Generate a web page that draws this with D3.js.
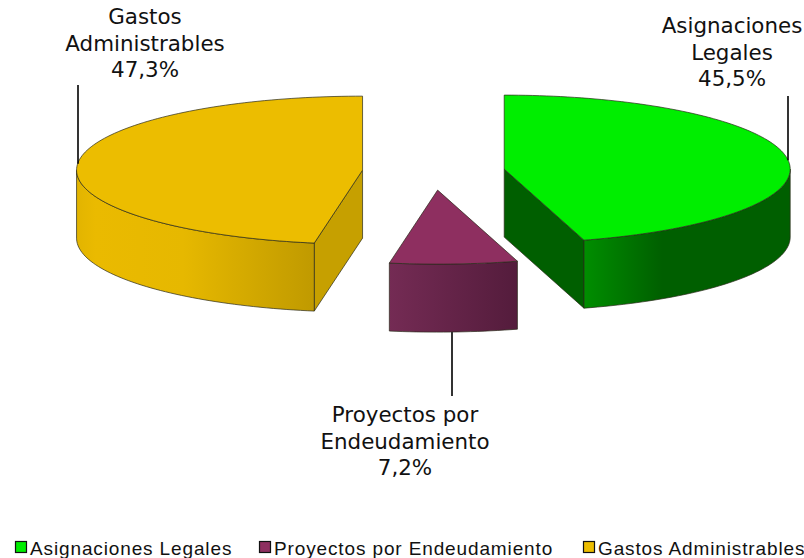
<!DOCTYPE html>
<html>
<head>
<meta charset="utf-8">
<script src="https://cdn.jsdelivr.net/npm/d3@7"></script>
<style>
html,body{margin:0;padding:0;background:#fff}
svg{display:block}
</style>
</head>
<body>
<svg id="chart" width="804" height="558"></svg>
<script>
const categories = ["Asignaciones Legales", "Proyectos por Endeudamiento", "Gastos Administrables"];
const values = [45.5, 7.2, 47.3];
const labelLines = [["Asignaciones", "Legales", "45,5%"], ["Proyectos por", "Endeudamiento", "7,2%"], ["Gastos", "Administrables", "47,3%"]];
const topColors = ["#00ee00", "#8e2f60", "#ecbd00"];
const wallStops = [
  [[0, "#008e00"], [0.38, "#005f00"], [1, "#005f00"]],
  [[0, "#742b54"], [1, "#541c3c"]],
  [[0, "#e2b400"], [0.08, "#eaba00"], [0.45, "#e6b800"], [1, "#c09a00"]]
];
const innerColors = ["#005f00", "#4f1b3a", "#c6a000"];

const svg = d3.select("#chart");
const cx = 433.6, cy = 171.7, rx = 286, ry = 74, depth = 68, explode = 71.3;
const k = ry / rx;

const arcs = d3.pie().sort(null).value(d => d)(values);
const pt = (c, a, z = 0) => [c[0] + rx * Math.sin(a), c[1] - ry * Math.cos(a) + z];
const centre = d => {
  const m = (d.startAngle + d.endAngle) / 2;
  return [cx + explode * Math.sin(m), cy - explode * k * Math.cos(m)];
};
const arcPts = (c, a0, a1, z = 0) => {
  const n = Math.max(2, Math.ceil(Math.abs(a1 - a0) * 40));
  return d3.range(n + 1).map(i => pt(c, a0 + (a1 - a0) * i / n, z));
};
const line = d3.line();

const defs = svg.append("defs");
const edge = "#2a2a1a";

const slices = svg.selectAll("g.slice")
  .data(arcs)
  .join("g")
  .attr("class", "slice");

slices.each(function (d, i) {
  const g = d3.select(this);
  const c = centre(d);
  const a0 = d.startAngle, a1 = d.endAngle;
  const flat = (pts) => line(pts) + "Z";
  const wallFace = (a) => flat([c, pt(c, a), pt(c, a, depth), [c[0], c[1] + depth]]);

  // Straight cut faces turned to the viewer
  if (Math.sin(a0) < -1e-6) {
    g.append("path").attr("d", wallFace(a0)).attr("fill", innerColors[i]).attr("stroke", edge).attr("stroke-width", 0.7);
  }
  if (Math.sin(a1) > 1e-6) {
    g.append("path").attr("d", wallFace(a1)).attr("fill", innerColors[i]).attr("stroke", edge).attr("stroke-width", 0.7);
  }

  // Rim wall, visible on the front half of the ellipse
  const v0 = Math.max(a0, Math.PI / 2), v1 = Math.min(a1, 3 * Math.PI / 2);
  if (v1 > v0) {
    const upper = arcPts(c, v0, v1);
    const lower = arcPts(c, v1, v0, depth);
    const xs = upper.map(p => p[0]);
    let stops = wallStops[i];
    const id = "wall" + i;
    const grad = defs.append("linearGradient").attr("id", id)
      .attr("gradientUnits", "userSpaceOnUse")
      .attr("x1", d3.min(xs)).attr("x2", d3.max(xs)).attr("y1", 0).attr("y2", 0);
    grad.selectAll("stop").data(stops).join("stop")
      .attr("offset", s => s[0]).attr("stop-color", s => s[1]);
    g.append("path").attr("d", flat(upper.concat(lower)))
      .attr("fill", `url(#${id})`).attr("stroke", edge).attr("stroke-width", 0.7);
  }

  // Top face
  g.append("path").attr("d", flat([c].concat(arcPts(c, a0, a1))))
    .attr("fill", topColors[i]).attr("stroke", edge).attr("stroke-width", 0.7);
});

// Leader lines, starting near each slice's mid-angle on the rim
const leaderShift = [0.02, 0.005, 0];
const leaderEnds = [96, 396, 85];
const leaderFrom = [0, depth, 0];
arcs.forEach((d, i) => {
  const p = pt(centre(d), (d.startAngle + d.endAngle) / 2 + leaderShift[i], leaderFrom[i]);
  svg.append("line").attr("class", "leader")
    .attr("x1", Math.round(p[0])).attr("x2", Math.round(p[0]))
    .attr("y1", p[1]).attr("y2", leaderEnds[i])
    .attr("stroke", i === 1 ? "#333" : "#000").attr("stroke-width", i === 1 ? 2 : 1.6);
});

// Labels
const labelPos = [[732, 33], [405, 422], [145, 24]];
const lineStep = 26.7;
categories.forEach((c, i) => {
  const t = svg.append("text")
    .attr("text-anchor", "middle")
    .attr("font-family", "'DejaVu Sans', sans-serif")
    .attr("font-size", 21.4)
    .attr("fill", "#111");
  labelLines[i].forEach((s, j) => {
    t.append("tspan").attr("x", labelPos[i][0]).attr("y", labelPos[i][1] + j * lineStep).text(s);
  });
});

// Legend
const legendX = [15, 259, 583];
const legend = svg.selectAll("g.legend").data(categories).join("g").attr("class", "legend")
  .attr("transform", (d, i) => `translate(${legendX[i]},541)`);
legend.append("rect").attr("x", 0.5).attr("y", 0.5).attr("width", 11).attr("height", 11)
  .attr("fill", (d, i) => topColors[i]).attr("stroke", "#111").attr("stroke-width", 1.2);
legend.append("text").attr("x", 15).attr("y", 13.5)
  .attr("font-family", "'Liberation Sans', Arial, sans-serif")
  .attr("font-size", 19).attr("letter-spacing", 0.87).attr("fill", "#111").text(d => d);
</script>
</body>
</html>
